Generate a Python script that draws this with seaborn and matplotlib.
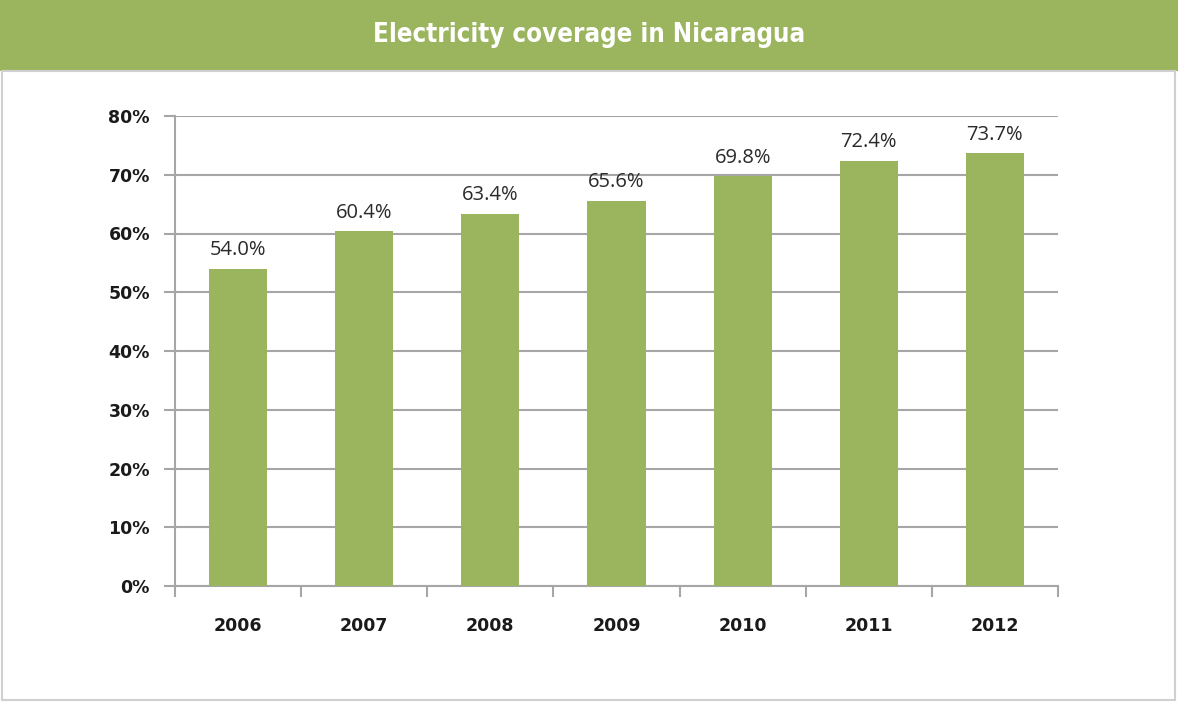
import matplotlib
matplotlib.use("Agg")
import matplotlib.pyplot as plt
import seaborn as sns
import pandas as pd
from matplotlib.patches import Rectangle
from matplotlib.ticker import FixedLocator

years = ["2006", "2007", "2008", "2009", "2010", "2011", "2012"]
coverage = [54.0, 60.4, 63.4, 65.6, 69.8, 72.4, 73.7]
bar_labels = ["54.0%", "60.4%", "63.4%", "65.6%", "69.8%", "72.4%", "73.7%"]
y_ticks = [0, 10, 20, 30, 40, 50, 60, 70, 80]
y_tick_labels = ["0%", "10%", "20%", "30%", "40%", "50%", "60%", "70%", "80%"]
title = "Electricity coverage in Nicaragua"

GREEN = "#9BB55F"
GRID = "#A6A6A6"

sns.set_theme(style="white")
plt.rcParams["font.family"] = ["Open Sans", "DejaVu Sans"]

df = pd.DataFrame({"year": years, "coverage": coverage})

fig = plt.figure(figsize=(11.78, 7.02), dpi=100)
fig.patch.set_facecolor("white")

# header band
fig.patches.append(Rectangle((0, 1 - 71 / 702), 1, 71 / 702, transform=fig.transFigure,
                             facecolor=GREEN, edgecolor="none", zorder=0))
# panel border
fig.patches.append(Rectangle((2 / 1178, 2 / 702), 1173 / 1178, (702 - 73) / 702,
                             transform=fig.transFigure, facecolor="none",
                             edgecolor="#D0D0D0", linewidth=1.5, zorder=0))
fig.text(0.5, 1 - 35 / 702, title, ha="center", va="center", color="white",
         fontsize=18.5, fontweight="bold", fontstretch="condensed",
         family="DejaVu Sans")

ax = fig.add_axes([175 / 1178, 1 - 586 / 702, (1058 - 175) / 1178, (586 - 116) / 702])
sns.barplot(data=df, x="year", y="coverage", color=GREEN, width=0.46,
            saturation=1, linewidth=0, ax=ax, zorder=3)

ax.set_ylim(0, 80)
ax.set_xlim(-0.5, 6.5)
ax.set_yticks(y_ticks)
ax.set_yticklabels(y_tick_labels)
ax.yaxis.grid(True, color=GRID, linewidth=1.5)
ax.set_axisbelow(True)
for s in ["top", "right"]:
    ax.spines[s].set_visible(False)
for s in ["left", "bottom"]:
    ax.spines[s].set_color(GRID)
    ax.spines[s].set_linewidth(1.5)

ax.tick_params(axis="y", which="major", direction="out", length=8, width=1.5,
               color=GRID, left=True, pad=10, labelsize=12.5, labelcolor="#1a1a1a")
ax.xaxis.set_minor_locator(FixedLocator([i - 0.5 for i in range(len(years) + 1)]))
ax.tick_params(axis="x", which="minor", direction="out", length=8, width=1.5,
               color=GRID, bottom=True)
ax.tick_params(axis="x", which="major", length=0, pad=22, labelsize=12.5,
               labelcolor="#1a1a1a")
for lbl in ax.get_xticklabels() + ax.get_yticklabels():
    lbl.set_fontweight("bold")
    lbl.set_family("DejaVu Sans")

ax.set_xlabel("")
ax.set_ylabel("")

ax.bar_label(ax.containers[0], labels=bar_labels, padding=6, fontsize=14.5,
             color="#2a2a2a")

fig.savefig("out.png", dpi=100, facecolor="white")
